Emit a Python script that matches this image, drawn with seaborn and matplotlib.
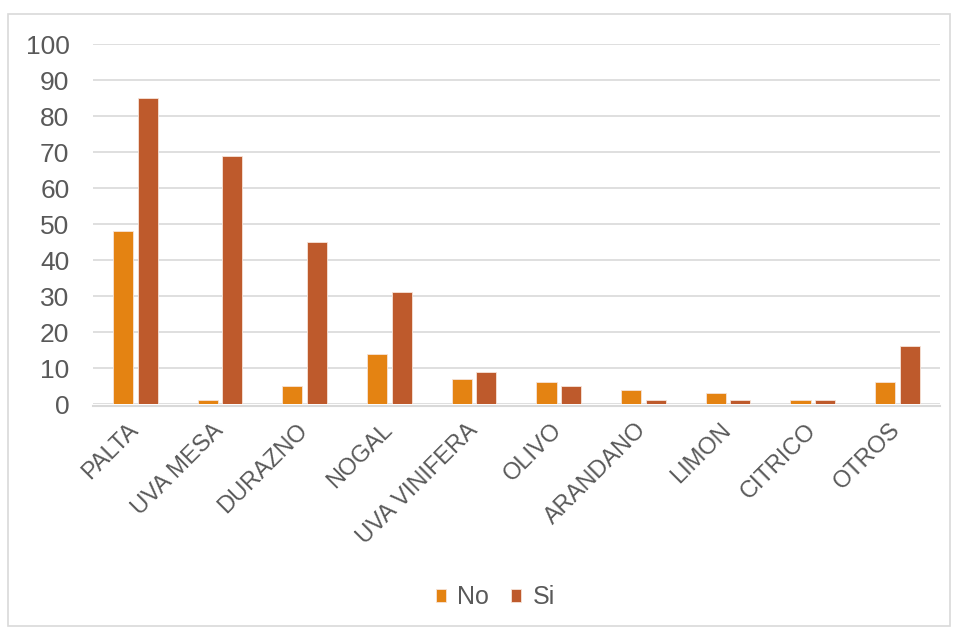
import matplotlib
matplotlib.use("Agg")
import matplotlib.pyplot as plt
from matplotlib.patches import Rectangle
import seaborn as sns
import pandas as pd
import numpy as np

categories = ["PALTA", "UVA MESA", "DURAZNO", "NOGAL", "UVA VINIFERA",
              "OLIVO", "ARANDANO", "LIMON", "CITRICO", "OTROS"]
no_values = [48, 1, 5, 14, 7, 6, 4, 3, 1, 6]
si_values = [85, 69, 45, 31, 9, 5, 1, 1, 1, 16]
series = ["No", "Si"]
yticks = [0, 10, 20, 30, 40, 50, 60, 70, 80, 90, 100]

df = pd.DataFrame({
    "cultivo": categories * 2,
    "respuesta": ["No"] * len(categories) + ["Si"] * len(categories),
    "valor": no_values + si_values,
})

sns.set_theme(style="white")
plt.rcParams["font.family"] = ["Liberation Sans", "DejaVu Sans"]
text_color = "#595959"
grid_color = "#D9D9D9"

fig = plt.figure(figsize=(9.56, 6.30), dpi=100)
ax = fig.add_axes([0.0973, 0.3587, 0.8857, 0.5714])

sns.barplot(data=df, x="cultivo", y="valor", hue="respuesta",
            order=categories, hue_order=series,
            palette={"No": "#E48312", "Si": "#BE5A2C"}, saturation=1,
            width=0.58, gap=0.18, edgecolor="#F6E3D8", linewidth=0.6,
            ax=ax, legend=True)

ax.set_ylim(0, 100)
ax.set_xlim(-0.5, len(categories) - 0.5)
ax.set_yticks(yticks)
ax.set_xlabel("")
ax.set_ylabel("")
ax.yaxis.grid(True, color=grid_color, linewidth=1.2)
ax.set_axisbelow(True)
for side in ["top", "right", "left"]:
    ax.spines[side].set_visible(False)
ax.spines["bottom"].set_color(grid_color)
ax.spines["bottom"].set_linewidth(1.5)
ax.spines["bottom"].set_position(("outward", 1.5))

ax.tick_params(axis="y", length=0, pad=17, labelsize=19, labelcolor=text_color)
ax.tick_params(axis="x", which="major", length=0, pad=15,
               labelsize=17, labelcolor=text_color)
ax.set_xticks(np.arange(-0.5, len(categories)), minor=True)
ax.tick_params(axis="x", which="minor", length=6, width=1.2, color=grid_color)
for lbl in ax.get_xticklabels():
    lbl.set_rotation(45)
    lbl.set_ha("right")
    lbl.set_va("center")
    lbl.set_rotation_mode("anchor")

leg = ax.legend(loc="center", bbox_to_anchor=(0.518, 0.052),
                bbox_transform=fig.transFigure, ncol=2, frameon=False,
                fontsize=18, handlelength=0.4, handleheight=0.4,
                handletextpad=0.45, columnspacing=0.9)
for t in leg.get_texts():
    t.set_color(text_color)

fig.patches.append(Rectangle((0.0087, 0.006), 0.985, 0.972,
                             transform=fig.transFigure, fill=False,
                             edgecolor="#D9D9D9", linewidth=1.2))

fig.savefig("out.png", dpi=100)
